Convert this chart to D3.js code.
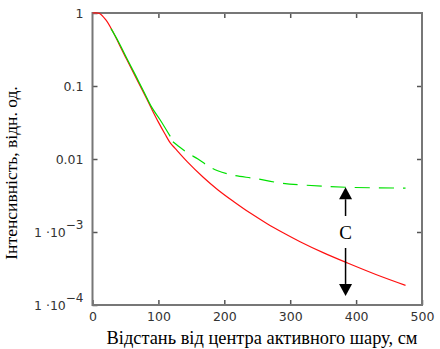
<!DOCTYPE html>
<html>
<head>
<meta charset="utf-8">
<script src="https://cdn.jsdelivr.net/npm/d3@7"></script>
<style>
  body { margin: 0; background: #fff; }
  svg { display: block; }
</style>
</head>
<body>
<svg id="drawing_region"></svg>
<script>
// distance from the active layer centre, cm
const redX   = [0, 10, 20, 30, 40, 52, 65, 77, 90, 100, 110, 118, 125, 144, 168, 190, 214, 240, 265, 290, 315, 350, 387, 430, 475];
const redY   = [1, 0.99, 0.81, 0.575, 0.38, 0.23, 0.135, 0.083, 0.048, 0.032, 0.022, 0.0166, 0.0141, 0.00915, 0.00563, 0.0038, 0.00262, 0.0018, 0.0013, 0.00097, 0.000737, 0.000522, 0.000376, 0.000262, 0.000186];

// green curve: solid head, dashed tail
const greenHeadX = [28, 40, 52, 65, 77, 90, 103, 118];
const greenHeadY = [0.61, 0.395, 0.24, 0.142, 0.087, 0.051, 0.034, 0.0204];
const greenTailX = [122, 130, 145, 160, 175, 190, 213, 247, 285, 320, 384, 475];
const greenTailY = [0.0172, 0.0151, 0.012, 0.010, 0.0081, 0.0069, 0.0060, 0.0054, 0.0047, 0.0044, 0.0041, 0.0040];

const xTicks = [0, 100, 200, 300, 400, 500];
const yTicks = [1, 0.1, 0.01, 1e-3, 1e-4];

// arrow "C"
const arrowX = 384;
const arrowTop = 0.0041;
const arrowBottom = 1.33e-4;
const arrowLabelY = 1e-3;
const arrowLabel = "C";

const xTitle = "Відстань від центра активного шару, см";
const yTitle = "Інтенсивність, відн. од.";

const config = {
    width: 440,
    height: 349,
    margin: {top: 13, right: 18, bottom: 44, left: 92.5}
};

const svg = d3.select('#drawing_region')
    .attr('width', config.width)
    .attr('height', config.height);

const inner_width = config.width - config.margin.left - config.margin.right;
const inner_height = config.height - config.margin.top - config.margin.bottom;

const chart = svg.append('g')
    .attr('transform', `translate(${config.margin.left}, ${config.margin.top})`);

const xscale = d3.scaleLinear().domain([0, 500]).range([0, inner_width]);
const yscale = d3.scaleLog().domain([1e-4, 1]).range([inner_height, 0]);

const tickFont = 'DejaVu Sans, Verdana, sans-serif';
const serif = 'Liberation Serif, Times New Roman, serif';

// axes (ticks point inwards)
const xaxis = d3.axisBottom(xscale).tickValues(xTicks).tickSize(-5).tickPadding(7).tickFormat(d3.format('d'));
const xaxisTop = d3.axisTop(xscale).tickValues(xTicks.slice(1, -1)).tickSize(-5).tickFormat('');
const yaxis = d3.axisLeft(yscale).tickValues(yTicks).tickSize(-5).tickPadding(9).tickFormat('');
const yaxisRight = d3.axisRight(yscale).tickValues(yTicks.slice(1, -1)).tickSize(-5).tickFormat('');

function styleAxis(g) {
    g.select('.domain').remove();
    g.selectAll('.tick line').attr('stroke', '#555').attr('stroke-width', 1.5);
    g.selectAll('.tick text').attr('fill', '#333').style('font-family', tickFont).style('font-size', '12.5px');
}

chart.append('g').attr('transform', `translate(0, ${inner_height})`).call(xaxis).call(styleAxis);
chart.append('g').call(xaxisTop).call(styleAxis);
chart.append('g').attr('transform', `translate(${inner_width}, 0)`).call(yaxisRight).call(styleAxis);
const yg = chart.append('g').call(yaxis).call(styleAxis);

// y labels: plain decimals or 1·10^n
yg.selectAll('.tick text').each(function(d) {
    const t = d3.select(this);
    const e = Math.round(Math.log10(d));
    if (e >= -2) {
        t.text(d3.format('')(d));
    } else {
        t.text('');
        t.append('tspan').text('1 ·10');
        t.append('tspan').attr('dy', '-0.65em').style('font-size', '12px').text('−' + (-e));
    }
});

// frame
chart.append('rect')
    .attr('width', inner_width)
    .attr('height', inner_height)
    .attr('fill', 'none')
    .attr('stroke', '#777')
    .attr('stroke-width', 2);

const line = d3.line()
    .x(d => xscale(d[0]))
    .y(d => yscale(d[1]))
    .curve(d3.curveCatmullRom.alpha(0.5));

const zip = (xs, ys) => xs.map((x, i) => [x, ys[i]]);

chart.append('path')
    .attr('d', line(zip(redX, redY)))
    .attr('stroke', '#ff1010')
    .attr('stroke-width', 1.2)
    .attr('fill', 'none');

chart.append('path')
    .attr('d', line(zip(greenHeadX, greenHeadY)))
    .attr('stroke', '#00e000')
    .attr('stroke-width', 1.2)
    .attr('fill', 'none');

chart.append('path')
    .attr('d', line(zip(greenTailX, greenTailY)))
    .attr('stroke', '#00e000')
    .attr('stroke-width', 1.2)
    .attr('stroke-dasharray', '15,9')
    .attr('fill', 'none');

// arrow
const ax = xscale(arrowX);
const yTop = yscale(arrowTop);
const yBot = yscale(arrowBottom);
const yLab = yscale(arrowLabelY);
const head = 12, halfW = 6.5, gap = 16;

const arrow = chart.append('g');
arrow.append('path')
    .attr('d', `M${ax},${yTop} L${ax - halfW},${yTop + head} L${ax + halfW},${yTop + head} Z`)
    .attr('fill', '#000');
arrow.append('path')
    .attr('d', `M${ax},${yBot} L${ax - halfW},${yBot - head} L${ax + halfW},${yBot - head} Z`)
    .attr('fill', '#000');
arrow.append('line')
    .attr('x1', ax).attr('x2', ax)
    .attr('y1', yTop + head).attr('y2', yLab - gap)
    .attr('stroke', '#000').attr('stroke-width', 1.5);
arrow.append('line')
    .attr('x1', ax).attr('x2', ax)
    .attr('y1', yLab + gap).attr('y2', yBot - head)
    .attr('stroke', '#000').attr('stroke-width', 1.5);
arrow.append('text')
    .attr('x', ax)
    .attr('y', yLab)
    .attr('dy', '0.35em')
    .attr('text-anchor', 'middle')
    .style('font-family', serif)
    .style('font-size', '19px')
    .text(arrowLabel);

// axis titles
svg.append('text')
    .attr('x', 262)
    .attr('y', 344)
    .attr('text-anchor', 'middle')
    .style('font-family', serif)
    .style('font-size', '18.4px')
    .text(xTitle);

svg.append('text')
    .attr('transform', 'translate(17, 173) rotate(-90)')
    .attr('text-anchor', 'middle')
    .style('font-family', serif)
    .style('font-size', '17.5px')
    .text(yTitle);
</script>
</body>
</html>
